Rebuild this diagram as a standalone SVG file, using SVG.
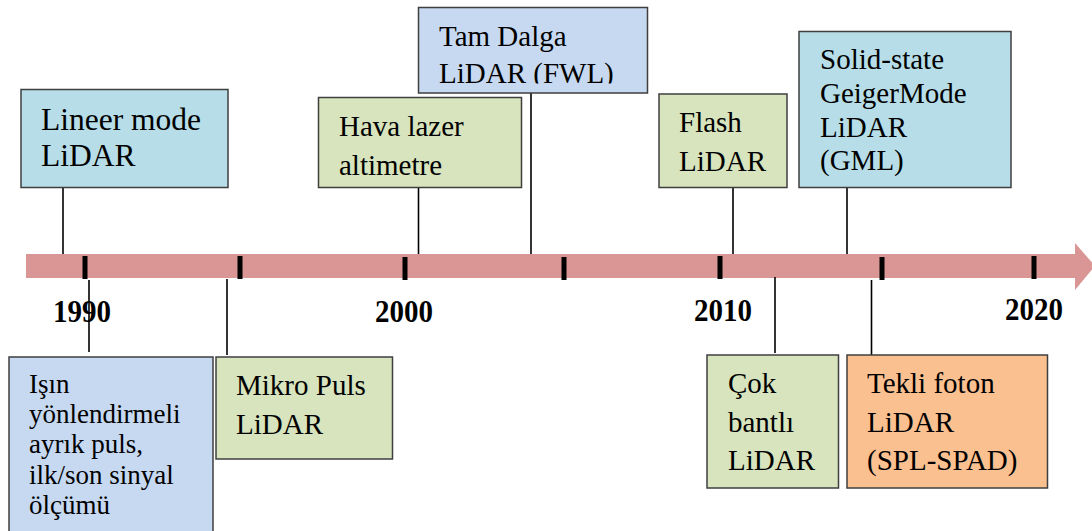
<svg xmlns="http://www.w3.org/2000/svg" width="1092" height="531" viewBox="0 0 1092 531">
<style>
.box{stroke:#3f3f3f;stroke-width:1.5}
.lb{fill:#b7dee8}.bl{fill:#c6d9f1}.gr{fill:#d7e4bd}.or{fill:#fac090}
.t{font-family:"Liberation Serif","Times New Roman",serif;font-size:29px;fill:#000}
.yr{font-family:"Liberation Serif","Times New Roman",serif;font-size:31px;font-weight:bold;fill:#000}
.c{stroke:#000;stroke-width:1.6;fill:none}
.tick{fill:#000}
</style>
<defs>
<clipPath id="clipTam"><rect x="418" y="7" width="230" height="76.5"/></clipPath>
</defs>
<rect width="1092" height="531" fill="#fff"/>
<g id="timeline">
<path d="M26 254 H1075 V243 L1095 266 L1075 290 V278 H26 Z" fill="#d99694"/>
<rect class="tick" x="82.5" y="256" width="5" height="23"/>
<rect class="tick" x="237.5" y="256" width="5" height="23"/>
<rect class="tick" x="402.5" y="257" width="5" height="23"/>
<rect class="tick" x="561.5" y="257" width="5" height="23"/>
<rect class="tick" x="717.5" y="256" width="5" height="23"/>
<rect class="tick" x="879.5" y="257" width="5" height="23"/>
<rect class="tick" x="1031.5" y="256" width="5" height="23"/>
<text class="yr" x="53" y="322" textLength="58" lengthAdjust="spacingAndGlyphs">1990</text>
<text class="yr" x="375" y="322" textLength="58" lengthAdjust="spacingAndGlyphs">2000</text>
<text class="yr" x="694" y="321" textLength="58" lengthAdjust="spacingAndGlyphs">2010</text>
<text class="yr" x="1005" y="320" textLength="58" lengthAdjust="spacingAndGlyphs">2020</text>
</g>
<g id="connectors">
<line class="c" x1="63" y1="188" x2="63" y2="254"/>
<line class="c" x1="418.5" y1="188" x2="418.5" y2="254"/>
<line class="c" x1="531" y1="93" x2="531" y2="254"/>
<line class="c" x1="733" y1="188" x2="733" y2="254"/>
<line class="c" x1="847" y1="188" x2="847" y2="254"/>
<line class="c" x1="89" y1="280" x2="89" y2="352"/>
<line class="c" x1="227" y1="279" x2="227" y2="355"/>
<line class="c" x1="775" y1="277" x2="775" y2="353"/>
<line class="c" x1="871.5" y1="280" x2="871.5" y2="355"/>
</g>
<g id="lineer">
<rect class="box lb" x="21" y="89.5" width="207" height="98"/>
<text class="t" style="font-size:31.5px" x="41" y="130">Lineer mode</text>
<text class="t" style="font-size:31.5px" x="41" y="166">LiDAR</text>
</g>
<g id="hava">
<rect class="box gr" x="318.5" y="97.5" width="203" height="90"/>
<text class="t" x="339" y="136">Hava lazer</text>
<text class="t" x="339" y="175">altimetre</text>
</g>
<g id="tamdalga">
<rect class="box bl" x="418.5" y="7.5" width="229" height="85.5"/>
<g clip-path="url(#clipTam)">
<text class="t" x="439" y="46">Tam Dalga</text>
<text class="t" x="439" y="83">LiDAR (FWL)</text>
</g>
</g>
<g id="flash">
<rect class="box gr" x="659" y="94" width="128" height="93.5"/>
<text class="t" x="679" y="132">Flash</text>
<text class="t" x="679" y="171">LiDAR</text>
</g>
<g id="solid">
<rect class="box lb" x="799" y="31.5" width="212" height="156"/>
<text class="t" x="820" y="69">Solid-state</text>
<text class="t" x="820" y="103">GeigerMode</text>
<text class="t" x="820" y="137">LiDAR</text>
<text class="t" x="820" y="170">(GML)</text>
</g>
<g id="isin">
<rect class="box bl" x="9" y="357" width="204" height="180"/>
<text class="t" style="font-size:27px" x="29" y="393">Işın</text>
<text class="t" style="font-size:27px" x="29" y="423">yönlendirmeli</text>
<text class="t" style="font-size:27px" x="29" y="453">ayrık puls,</text>
<text class="t" style="font-size:27px" x="29" y="484">ilk/son sinyal</text>
<text class="t" style="font-size:27px" x="29" y="514">ölçümü</text>
</g>
<g id="mikro">
<rect class="box gr" x="216" y="357" width="176.5" height="102"/>
<text class="t" x="236" y="395">Mikro Puls</text>
<text class="t" x="236" y="434">LiDAR</text>
</g>
<g id="cok">
<rect class="box gr" x="707" y="355" width="131.5" height="133"/>
<text class="t" x="728" y="393">Çok</text>
<text class="t" x="728" y="432">bantlı</text>
<text class="t" x="728" y="470">LiDAR</text>
</g>
<g id="tekli">
<rect class="box or" x="847" y="355" width="200.5" height="133"/>
<text class="t" x="867" y="393">Tekli foton</text>
<text class="t" x="867" y="432">LiDAR</text>
<text class="t" x="867" y="470">(SPL-SPAD)</text>
</g>
</svg>
